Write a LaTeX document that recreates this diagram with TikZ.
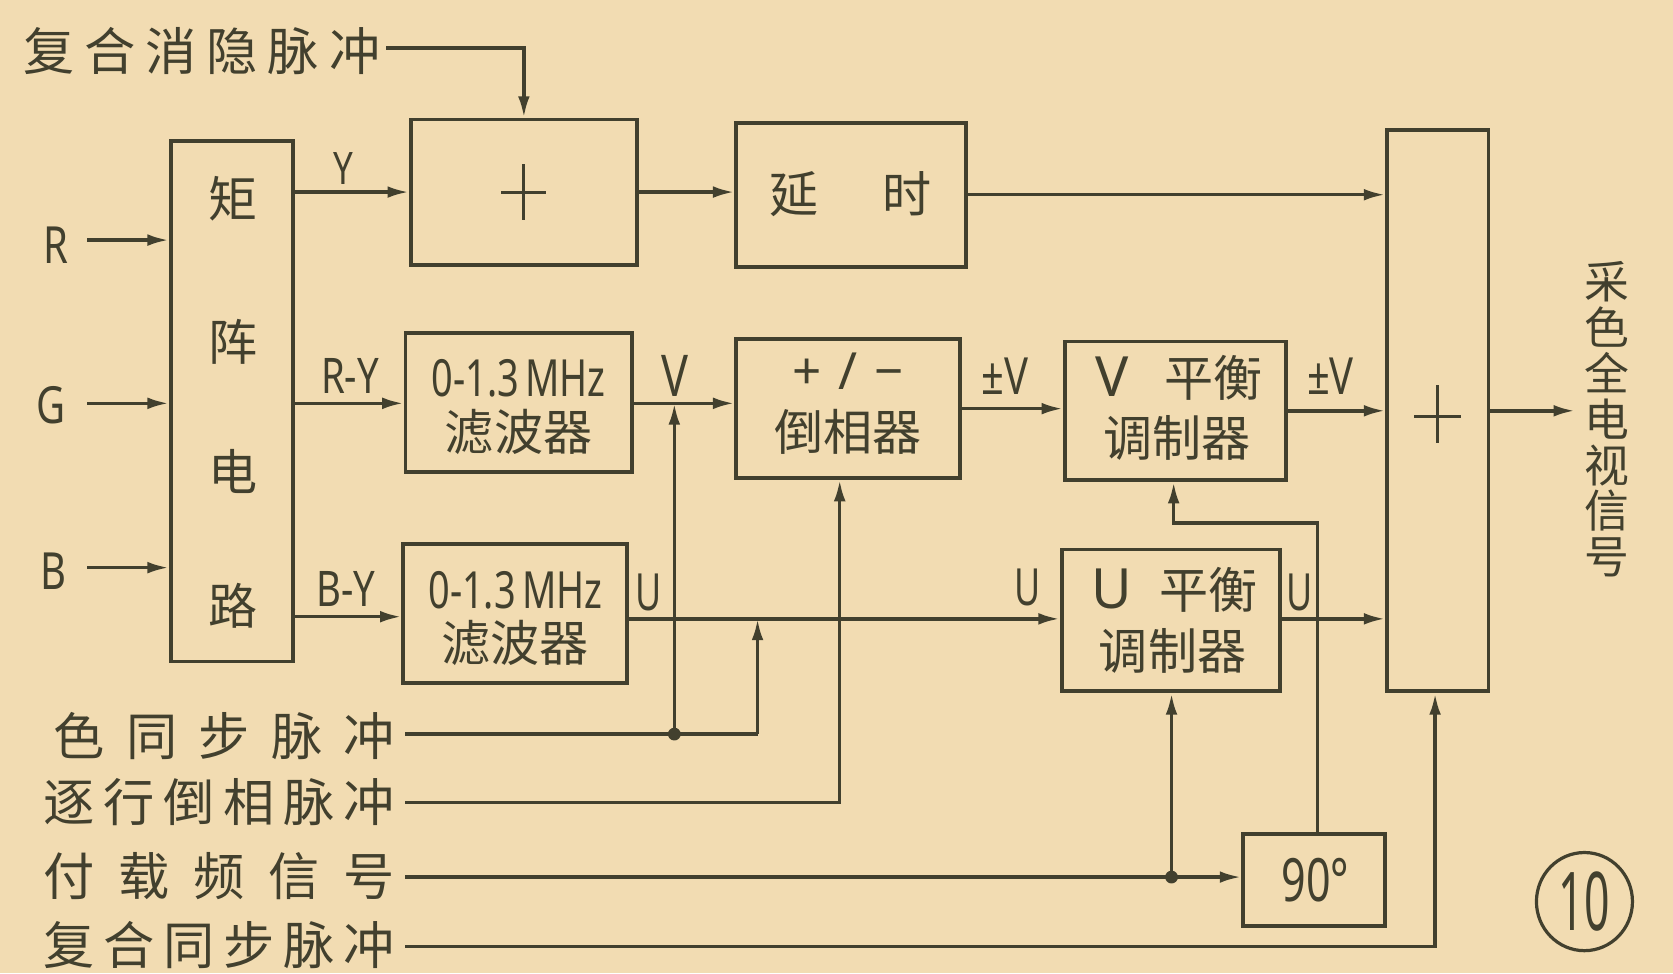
\documentclass[tikz,border=0pt]{standalone}
\usepackage{fontspec}
\setmainfont{Noto Sans CJK SC}
\newfontfamily\lat{Noto Sans}
\usetikzlibrary{arrows.meta,shapes.geometric}
\definecolor{paper}{RGB}{242,220,178}
\definecolor{ink}{RGB}{66,64,46}
\newcommand{\nr}[2][0.78]{\scalebox{#1}[1]{#2}}
\begin{document}
\begin{tikzpicture}[x=0.5pt,y=-0.5pt,color=ink,line width=1.6pt,
  blk/.style={draw=ink,line width=1.8pt,inner sep=0pt},
  cj/.style={inner sep=0pt,text=ink,font=\fontsize{23}{23}\selectfont},
  lt/.style={inner sep=0pt,text=ink,font=\lat\fontsize{24}{24}\selectfont},
  arr/.style={-{Latex[length=10pt,width=5.5pt]}},
  dot/.style={circle,fill=ink,inner sep=0pt,minimum size=6pt}]
\fill[paper] (0,0) rectangle (1568,912);
\useasboundingbox (0,0) rectangle (1568,912);

% blocks
\node[blk,minimum width=57.5pt,minimum height=244pt] (mat) at (217.5,376) {};
\node[cj] (m1) at (218,186) {矩};
\node[cj] (m2) at (218,320) {阵};
\node[cj] (m3) at (218,442) {电};
\node[cj] (m4) at (218,568) {路};

\node[blk,minimum width=106pt,minimum height=68pt] (add1) at (491,180) {};
\draw[line width=1.4pt] (add1.center) ++(-21,0) -- ++(42,0);
\draw[line width=1.4pt] (add1.center) ++(0,-26) -- ++(0,52);

\node[blk,minimum width=107.5pt,minimum height=67.5pt] (delay) at (797.5,182.5) {};
\node[cj] (dtx) at (797.5,182) {\makebox[76pt]{延\hfill 时}};

\node[blk,minimum width=47.5pt,minimum height=263pt] (addF) at (1347.5,385) {};
\draw[line width=1.4pt] (addF.center) ++(-22,5) -- ++(44,0);
\draw[line width=1.4pt] (addF.center) ++(0,-24) -- ++(0,54);

\node[blk,minimum width=106pt,minimum height=65pt] (filt1) at (486,377) {};
\node[lt] (f1a) at (486,355) {\nr[0.74]{0-1.3\,MHz}};
\node[cj] (f1b) at (486,405) {滤波器};

\node[blk,minimum width=105pt,minimum height=65pt] (filt2) at (483,575) {};
\node[lt] (f2a) at (483,553) {\nr[0.74]{0-1.3\,MHz}};
\node[cj] (f2b) at (483,603) {滤波器};

\node[blk,minimum width=105pt,minimum height=65pt] (inv) at (795,383) {};
\node[lt] (i1) at (795,348) {\makebox[52pt]{+\hfill/\hfill −}};
\node[cj] (i2) at (795,405) {倒相器};

\node[blk,minimum width=103.5pt,minimum height=65pt] (vmod) at (1101.5,385) {};
\node[cj] (v1) at (1105,354) {\makebox[78pt]{{\lat\fontsize{26}{26}\selectfont V}\hfill 平衡}};
\node[cj] (v2) at (1103,410) {调制器};

\node[blk,minimum width=102.5pt,minimum height=66.5pt] (umod) at (1097.5,581.5) {};
\node[cj] (u1) at (1101,553) {\makebox[78pt]{{\lat\fontsize{26}{26}\selectfont U}\hfill 平衡}};
\node[cj] (u2) at (1099,610) {调制器};

\node[blk,minimum width=66.5pt,minimum height=43pt] (ph90) at (1231.5,825) {};
\node[lt,font=\lat\fontsize{28}{28}\selectfont] (p9) at (1233,825) {\nr[0.72]{90°}};

\node[draw=ink,line width=1.5pt,ellipse,minimum width=45pt,minimum height=46pt,inner sep=0pt] (num) at (1485,845) {};
\node[lt,font=\lat\fontsize{38}{38}\selectfont] (numt) at (1485,845) {\nr[0.55]{10}};

% output text
\node[cj,align=center,font=\fontsize{21}{21.5}\selectfont] (outt) at (1506,393) {采\\色\\全\\电\\视\\信\\号};

% input labels
\node[lt] (lR) at (52,230) {\nr{R}};
\node[lt] (lG) at (48,380) {\nr{G}};
\node[lt] (lB) at (50,535) {\nr{B}};
\coordinate (iR) at (82,225);
\coordinate (iG) at (82,378);
\coordinate (iB) at (82,532);
\draw[arr] (iR) -- (iR -| mat.west);
\draw[arr] (iG) -- (iG -| mat.west);
\draw[arr] (iB) -- (iB -| mat.west);

% rows
\coordinate (rY) at (0,180);
\coordinate (rV) at (0,378);
\coordinate (rB) at (0,578);
\coordinate (rU) at (0,580);

\node[lt,font=\lat\fontsize{21}{21}\selectfont] (lY) at (322,158) {\nr{Y}};
\draw[arr] (mat.east |- rY) -- (add1.west |- rY);
\draw[arr] (add1.east) -- (add1.east -| delay.west);
\draw[arr] (delay.east) -- (delay.east -| addF.west);

\node[lt,font=\lat\fontsize{23}{23}\selectfont] (lRY) at (328,352) {\nr{R-Y}};
\draw[arr] (mat.east |- rV) -- (filt1.west |- rV);
\node[lt,font=\lat\fontsize{23}{23}\selectfont] (lBY) at (324,552) {\nr{B-Y}};
\draw[arr] (mat.east |- rB) -- (filt2.west |- rB);

\node[lt,font=\lat\fontsize{27}{27}\selectfont] (lV) at (633,352) {\nr{V}};
\draw[arr] (filt1.east |- rV) -- (inv.west |- rV);
\node[lt] (lpV1) at (942,353) {\nr{±V}};
\draw[arr] (inv.east) -- (inv.east -| vmod.west);
\node[lt] (lpV2) at (1247,353) {\nr{±V}};
\draw[arr] (vmod.east) -- (vmod.east -| addF.west);

\node[lt] (lU1) at (608,555) {\nr[0.7]{U}};
\node[lt] (lU2) at (963,551) {\nr[0.7]{U}};
\node[lt] (lU3) at (1218,555) {\nr[0.7]{U}};
\draw[arr] (filt2.east |- rU) -- (umod.west |- rU);
\draw[arr] (umod.east |- rU) -- (addF.west |- rU);

\coordinate (oE) at (1476,385);
\draw[arr] (addF.east) -- (oE);

% title
\node[cj,anchor=east,font=\fontsize{24}{24}\selectfont] (title) at (358,48) {\makebox[167pt]{复\hfill 合\hfill 消\hfill 隐\hfill 脉\hfill 冲}};
\coordinate (t0) at (362,45);
\draw[arr] (t0) -| (add1.north);

% bottom labels
\node[cj,anchor=east,font=\fontsize{24}{24}\selectfont] (lcs) at (372,690) {\makebox[160pt]{色\hfill 同\hfill 步\hfill 脉\hfill 冲}};
\node[cj,anchor=east,font=\fontsize{24}{24}\selectfont] (lip) at (372,752) {\makebox[165pt]{逐\hfill 行\hfill 倒\hfill 相\hfill 脉\hfill 冲}};
\node[cj,anchor=east,font=\fontsize{24}{24}\selectfont] (lsc) at (372,821) {\makebox[165pt]{付\hfill 载\hfill 频\hfill 信\hfill 号}};
\node[cj,anchor=east,font=\fontsize{24}{24}\selectfont] (lcy) at (372,886) {\makebox[165pt]{复\hfill 合\hfill 同\hfill 步\hfill 脉\hfill 冲}};

% colour sync
\coordinate (c0) at (380,688);
\coordinate (j1) at (632,688);
\coordinate (j2) at (710,688);
\draw (c0) -- (j2);
\draw[arr] (j2) -- (j2 |- rU);
\draw[arr] (j1) -- (j1 |- rV);
\node[dot] (d1) at (j1) {};

% line-by-line inversion pulse
\coordinate (p0) at (380,752);
\coordinate (p1) at (787,752);
\draw[arr] (p0) -- (p1) -- (p1 |- inv.south);

% subcarrier
\coordinate (s0) at (380,822);
\coordinate (j3) at (1098,822);
\draw[arr] (s0) -- (s0 -| ph90.west);
\draw[arr] (j3) -- (j3 |- umod.south);
\node[dot] (d3) at (j3) {};

% 90 degree to V modulator
\coordinate (k0) at (1235,490);
\coordinate (k1) at (1100,490);
\draw[arr] (k0 |- ph90.north) -- (k0) -- (k1) -- (k1 |- vmod.south);

% composite sync
\coordinate (y0) at (380,887);
\coordinate (y1) at (1345,887);
\draw[arr] (y0) -- (y1) -- (y1 |- addF.south);
\end{tikzpicture}
\end{document}
